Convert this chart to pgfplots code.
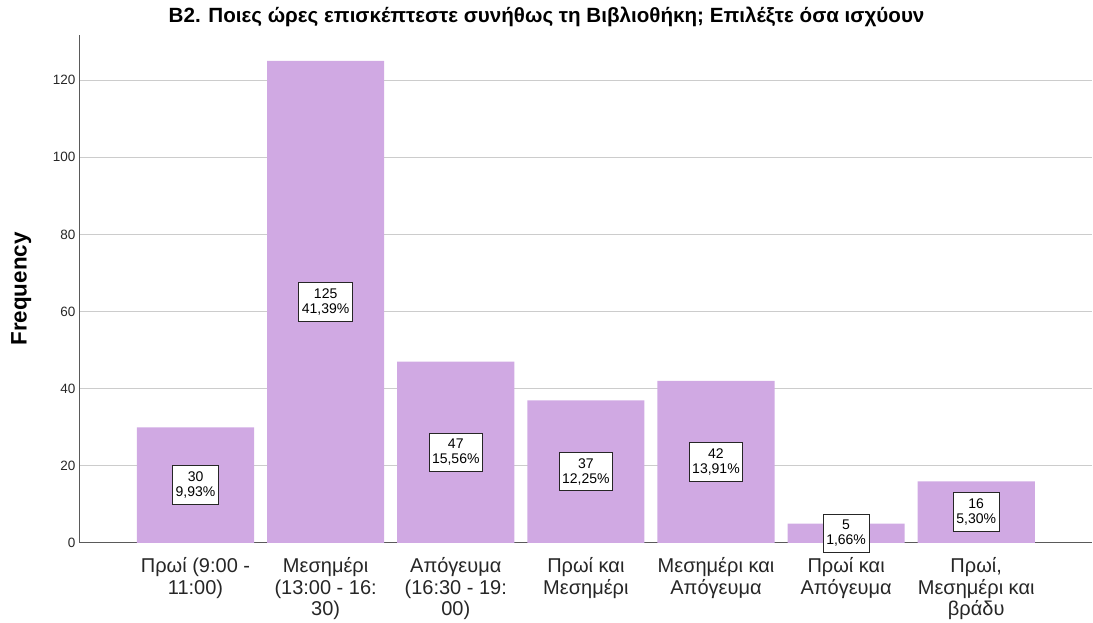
\documentclass[border=0pt]{standalone}
\usepackage{fontspec}
\setmainfont{Liberation Sans}
\usepackage{pgfplots}
\usepackage{pgfplotstable}
\pgfplotsset{compat=1.18}
\definecolor{barc}{RGB}{208,169,227}
\definecolor{gridc}{RGB}{204,204,204}
\definecolor{axc}{RGB}{90,90,90}
\pgfplotstableread{
x y lab
0 30 {30\\9,93\%}
1 125 {125\\41,39\%}
2 47 {47\\15,56\%}
3 37 {37\\12,25\%}
4 42 {42\\13,91\%}
5 5 {5\\1,66\%}
6 16 {16\\5,30\%}
}\datatable
\begin{document}
\begin{tikzpicture}
\path[use as bounding box] (-80pt,-80pt) rectangle (1013pt,543pt);
\begin{axis}[
  scale only axis,
  width=1012pt, height=508pt,
  xmin=-0.888, xmax=6.89,
  ymin=0, ymax=131.7,
  axis x line*=bottom, axis y line*=left,
  axis line style={axc, line width=1pt},
  ytick={0,20,40,60,80,100,120},
  xtick=data,
  xticklabels={{Πρωί (9:00 -\\11:00)},{Μεσημέρι\\(13:00 - 16:\\30)},{Απόγευμα\\(16:30 - 19:\\00)},{Πρωί και\\Μεσημέρι},{Μεσημέρι και\\Απόγευμα},{Πρωί και\\Απόγευμα},{Πρωί,\\Μεσημέρι και\\βράδυ}},
  xticklabel style={align=center, font=\fontsize{20}{21.7}\selectfont, text=black!85, yshift=-11pt},
  yticklabel style={font=\fontsize{13.5}{15}\selectfont, text=black!85, xshift=-1pt},
  major tick length=0pt,
  /pgf/number format/assume math mode=true,
  ymajorgrids,
  grid style={gridc, line width=1pt},
  ylabel={\textbf{Frequency}},
  ylabel style={at={(axis description cs:-0.058,0.5)}, anchor=center, font=\fontsize{22.4}{24}\selectfont},
  title={\textbf{B2. Ποιες ώρες επισκέπτεστε συνήθως τη Βιβλιοθήκη; Επιλέξτε όσα ισχύουν}},
  title style={at={(axis description cs:0.461,1.024)}, anchor=center, font=\fontsize{20.6}{22}\selectfont},
  clip=false,
]
\addplot[ybar, bar width=0.9, fill=barc, draw=none] table[x=x, y=y] {\datatable};
\addplot[draw=none, mark=none, nodes near coords, point meta=explicit symbolic,
  nodes near coords style={draw=black!85, line width=0.9pt, fill=white, anchor=center, align=center,
    font=\fontsize{14}{15}\selectfont, inner xsep=3pt, inner ysep=6pt}]
  table[x=x, y expr=\thisrow{y}/2, meta=lab] {\datatable};
\end{axis}
\end{tikzpicture}
\end{document}
